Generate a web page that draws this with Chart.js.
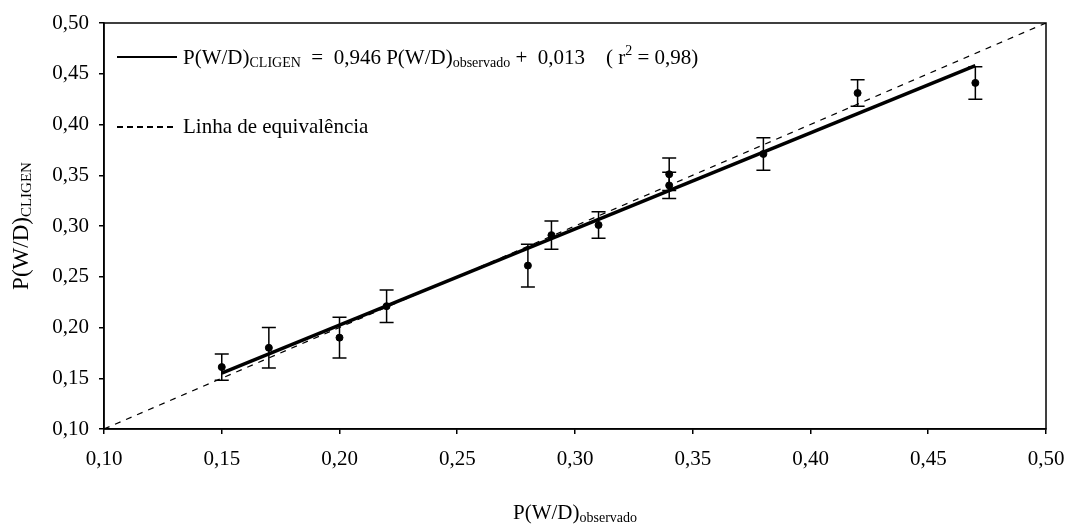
<!DOCTYPE html>
<html>
<head>
<meta charset="utf-8">
<script src="https://cdn.jsdelivr.net/npm/chart.js@4.4.0/dist/chart.umd.min.js"></script>
<style>
    html, body { margin: 0; padding: 0; background: #fff; }
    #wrap { width: 1067px; height: 524px; position: relative; }
</style>
</head>
<body>
<div id="wrap"><canvas id="chart"></canvas></div>
<script>
// valores
const observado = [0.15, 0.17, 0.20, 0.22, 0.28, 0.29, 0.31, 0.34, 0.34, 0.38, 0.42, 0.47];
const cligen    = [0.161, 0.180, 0.190, 0.221, 0.261, 0.291, 0.301, 0.351, 0.340, 0.371, 0.431, 0.441];
const erro      = [0.013, 0.020, 0.020, 0.016, 0.021, 0.014, 0.013, 0.016, 0.013, 0.016, 0.013, 0.016];

// linha ajustada e linha 1:1 (pontos extremos)
const regressaoX = [0.15, 0.47];
const regressaoY = [0.155, 0.458];
const equivX = [0.10, 0.50];
const equivY = [0.10, 0.50];

const eixoTicks = [0.10, 0.15, 0.20, 0.25, 0.30, 0.35, 0.40, 0.45, 0.50];

const FONTE = '"Liberation Serif", "Times New Roman", serif';

function fmt(v) {
    return v.toFixed(2).replace('.', ',');
}

function pares(xs, ys) {
    return xs.map((x, i) => ({ x: x, y: ys[i] }));
}

// desenha pedaços de texto com subscrito / sobrescrito
function textoRico(ctx, partes, x, y, base) {
    base = base || 21;
    const menor = Math.round(base * 0.66);
    partes.forEach(p => {
        const tam = p.s ? menor : base;
        ctx.font = tam + 'px ' + FONTE;
        const dy = p.s === 'sub' ? 3 : (p.s === 'sup' ? -9 : 0);
        ctx.fillText(p.t, x, y + dy);
        x += ctx.measureText(p.t).width;
    });
    return x;
}

function larguraRica(ctx, partes, base) {
    base = base || 21;
    const menor = Math.round(base * 0.66);
    let w = 0;
    partes.forEach(p => {
        ctx.font = (p.s ? menor : base) + 'px ' + FONTE;
        w += ctx.measureText(p.t).width;
    });
    return w;
}

const barrasErro = {
    id: 'barrasErro',
    afterDatasetsDraw(chart) {
        const ctx = chart.ctx;
        const xs = chart.scales.x, ys = chart.scales.y;
        ctx.save();
        ctx.strokeStyle = '#000';
        ctx.lineWidth = 1.5;
        observado.forEach((ox, i) => {
            const px = xs.getPixelForValue(ox);
            const top = ys.getPixelForValue(cligen[i] + erro[i]);
            const bot = ys.getPixelForValue(cligen[i] - erro[i]);
            ctx.beginPath();
            ctx.moveTo(px, top); ctx.lineTo(px, bot);
            ctx.moveTo(px - 7, top); ctx.lineTo(px + 7, top);
            ctx.moveTo(px - 7, bot); ctx.lineTo(px + 7, bot);
            ctx.stroke();
        });
        ctx.restore();
    }
};

const moldura = {
    id: 'moldura',
    afterDraw(chart) {
        const ctx = chart.ctx;
        const a = chart.chartArea;
        ctx.save();
        ctx.strokeStyle = '#000';
        ctx.lineWidth = 1.5;
        ctx.strokeRect(a.left, a.top, a.right - a.left, a.bottom - a.top);

        ctx.fillStyle = '#000';
        ctx.textBaseline = 'alphabetic';

        // legenda
        ctx.lineWidth = 2;
        ctx.beginPath();
        ctx.moveTo(117, 57); ctx.lineTo(177, 57);
        ctx.stroke();
        textoRico(ctx, [
            { t: 'P(W/D)' }, { t: 'CLIGEN', s: 'sub' },
            { t: '  =  0,946 P(W/D)' }, { t: 'observado', s: 'sub' },
            { t: ' +  0,013    ( r' }, { t: '2', s: 'sup' }, { t: ' = 0,98)' }
        ], 183, 64);

        ctx.setLineDash([6, 4]);
        ctx.beginPath();
        ctx.moveTo(117, 127); ctx.lineTo(177, 127);
        ctx.stroke();
        ctx.setLineDash([]);
        textoRico(ctx, [{ t: 'Linha de equivalência' }], 183, 133);

        // título eixo x
        const tx = [{ t: 'P(W/D)' }, { t: 'observado', s: 'sub' }];
        const wx = larguraRica(ctx, tx);
        textoRico(ctx, tx, (a.left + a.right) / 2 - wx / 2, 519);

        // título eixo y
        const ty = [{ t: 'P(W/D)' }, { t: 'CLIGEN', s: 'sub' }];
        const wy = larguraRica(ctx, ty, 23);
        ctx.translate(28, 226);
        ctx.rotate(-Math.PI / 2);
        textoRico(ctx, ty, -wy / 2, 0, 23);
        ctx.restore();
    }
};

function eixo(posicao) {
    return {
        type: 'linear',
        position: posicao,
        min: 0.10,
        max: 0.50,
        afterBuildTicks: scale => {
            scale.ticks = eixoTicks.map(v => ({ value: v }));
        },
        afterFit: scale => {
            if (posicao === 'left') {
                scale.width = 104;
                scale.paddingTop = 0;
                scale.paddingBottom = 0;
            } else {
                scale.height = 95;
                scale.paddingLeft = 0;
                scale.paddingRight = 0;
            }
        },
        grid: {
            drawOnChartArea: false,
            drawTicks: true,
            tickLength: 5,
            color: '#000',
            lineWidth: 1.5
        },
        border: { display: true, color: '#000', width: 1.5 },
        ticks: {
            color: '#000',
            font: { family: FONTE, size: 21 },
            padding: posicao === 'left' ? 10 : 13,
            maxRotation: 0,
            autoSkip: false,
            callback: v => fmt(v)
        }
    };
}

const ctx = document.getElementById('chart').getContext('2d');
new Chart(ctx, {
    type: 'scatter',
    data: {
        datasets: [
            {
                type: 'line',
                label: 'Linha de equivalência',
                data: pares(equivX, equivY),
                borderColor: '#000',
                borderWidth: 1.2,
                borderDash: [6, 6],
                pointRadius: 0,
                fill: false
            },
            {
                type: 'line',
                label: 'Regressão',
                data: pares(regressaoX, regressaoY),
                borderColor: '#000',
                borderWidth: 3.5,
                pointRadius: 0,
                fill: false
            },
            {
                label: 'Observado',
                data: pares(observado, cligen),
                backgroundColor: '#000',
                borderColor: '#000',
                pointRadius: 3.5,
                pointHoverRadius: 3.5
            }
        ]
    },
    options: {
        responsive: true,
        maintainAspectRatio: false,
        animation: false,
        layout: { padding: { top: 23, right: 21, left: 0, bottom: 0 } },
        plugins: {
            legend: { display: false },
            tooltip: { enabled: false }
        },
        scales: {
            x: eixo('bottom'),
            y: eixo('left')
        }
    },
    plugins: [barrasErro, moldura]
});
</script>
</body>
</html>
